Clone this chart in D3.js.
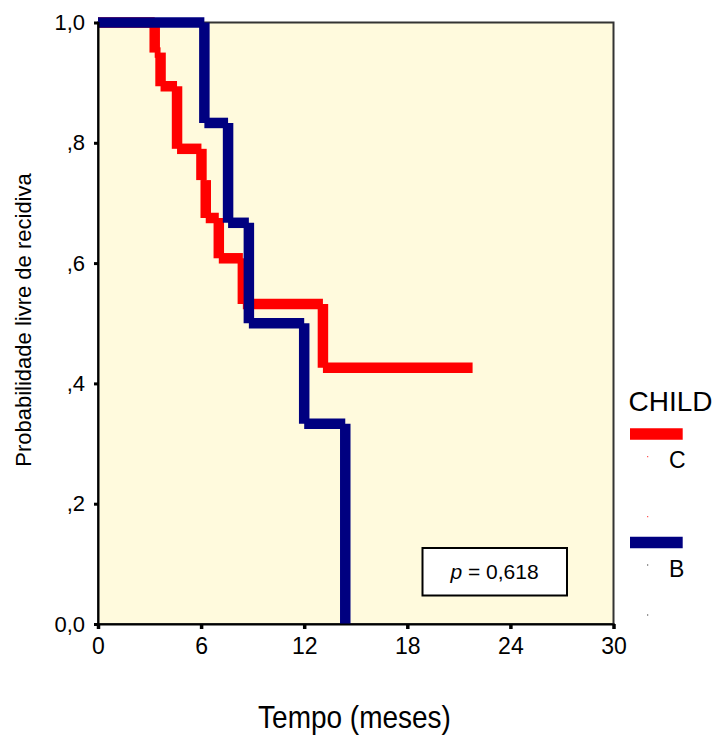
<!DOCTYPE html>
<html>
<head>
<meta charset="utf-8">
<script src="https://cdn.jsdelivr.net/npm/d3@7"></script>
<style>
  html, body { margin: 0; padding: 0; background: #ffffff; }
  svg { display: block; font-family: "Liberation Sans", Arial, sans-serif; }
</style>
</head>
<body>
<script>
// Kaplan-Meier curves: relapse-free probability by CHILD class
const groups = ["C", "B"];
const groupColors = ["#ff0000", "#000080"];

// Group C: event times (months) and survival after each event
const timesC = [3.30, 3.64, 4.60, 6.02, 6.27, 7.03, 8.43, 13.09];
const survC  = [0.950, 0.894, 0.790, 0.738, 0.675, 0.608, 0.532, 0.426];
const lastFollowUpC = 21.8;

// Group B
const timesB = [6.19, 7.57, 8.78, 12.0, 14.39];
const survB  = [0.833, 0.667, 0.500, 0.333, 0.0];
const lastFollowUpB = null;

const xTicks = [0, 6, 12, 18, 24, 30];
const yTicks = [0, 0.2, 0.4, 0.6, 0.8, 1.0];
const yTickLabels = ["0,0", ",2", ",4", ",6", ",8", "1,0"];
const pText = "0,618";

const W = 716, H = 736;
const svg = d3.select("body").append("svg").attr("width", W).attr("height", H);

const x = d3.scaleLinear().domain([0, 30]).range([98, 613.5]);
const y = d3.scaleLinear().domain([0, 1]).range([624, 22.5]);

// plot background and frame
svg.append("rect")
  .attr("x", x(0)).attr("y", y(1))
  .attr("width", x(30) - x(0)).attr("height", y(0) - y(1))
  .attr("fill", "#fffadd")
  .attr("stroke", "#333333").attr("stroke-width", 2);

// step-curve segments (each drawn separately, butt ends)
function stepSegments(times, surv, end) {
  const segs = [];
  let t0 = 0, s0 = 1;
  times.forEach((t, i) => {
    segs.push([[t0, s0], [t, s0]]);
    segs.push([[t, s0], [t, surv[i]]]);
    t0 = t; s0 = surv[i];
  });
  if (end != null) segs.push([[t0, s0], [end, s0]]);
  return segs;
}

const line = d3.line().x(d => x(d[0])).y(d => y(d[1]));

const series = [
  { segs: stepSegments(timesC, survC, lastFollowUpC), color: groupColors[0] },
  { segs: stepSegments(timesB, survB, lastFollowUpB), color: groupColors[1] }
];

series.forEach(s => {
  svg.append("g").selectAll("path")
    .data(s.segs)
    .join("path")
    .attr("d", line)
    .attr("fill", "none")
    .attr("stroke", s.color)
    .attr("stroke-width", 10.5)
    .attr("stroke-linecap", "butt");
});

// axes
const yAxis = d3.axisLeft(y)
  .tickValues(yTicks)
  .tickFormat((d, i) => yTickLabels[i])
  .tickSize(4).tickPadding(9);

const gy = svg.append("g").attr("transform", `translate(${x(0)},0)`).call(yAxis);
gy.select(".domain").attr("stroke", "#000").attr("stroke-width", 2);
gy.selectAll(".tick line").attr("stroke", "#000").attr("stroke-width", 3);
gy.selectAll(".tick text")
  .attr("font-size", 22)
  .attr("font-family", "Liberation Sans, Arial, sans-serif")
  .attr("fill", "#000");

const xAxis = d3.axisBottom(x)
  .tickValues(xTicks)
  .tickFormat(d => String(d))
  .tickSize(5).tickPadding(9);

const gx = svg.append("g").attr("transform", `translate(0,${y(0)})`).call(xAxis);
gx.select(".domain").attr("stroke", "#000").attr("stroke-width", 2);
gx.selectAll(".tick line").attr("stroke", "#000").attr("stroke-width", 3.5);
gx.selectAll(".tick text")
  .attr("font-size", 23)
  .attr("font-family", "Liberation Sans, Arial, sans-serif")
  .attr("fill", "#000");

// axis titles
svg.append("text")
  .attr("transform", "translate(354.5,728) scale(1,1.15)")
  .attr("text-anchor", "middle")
  .attr("font-size", 28)
  .attr("fill", "#000")
  .text("Tempo (meses)");

svg.append("text")
  .attr("transform", "translate(31,320) rotate(-90)")
  .attr("text-anchor", "middle")
  .attr("font-size", 22)
  .attr("fill", "#000")
  .text("Probabilidade livre de recidiva");

// p-value box
svg.append("rect")
  .attr("x", 422.5).attr("y", 548)
  .attr("width", 144.5).attr("height", 47.5)
  .attr("fill", "#ffffff")
  .attr("stroke", "#000").attr("stroke-width", 2);

const pt = svg.append("text")
  .attr("x", 494.5).attr("y", 579.3)
  .attr("text-anchor", "middle")
  .attr("font-size", 21)
  .attr("fill", "#000");
pt.append("tspan").attr("font-style", "italic").text("p");
pt.append("tspan").text(" = " + pText);

// legend
svg.append("text")
  .attr("x", 628.5).attr("y", 410.7)
  .attr("font-size", 28)
  .attr("fill", "#000")
  .text("CHILD");

const legendY = [434, 542.5];
const labelY = [468.3, 577.3];
const dotY = [[456.7, 516.7], [565, 615]];
const dotColors = ["#ff0000", "#000000"];

groups.forEach((g, i) => {
  svg.append("line")
    .attr("x1", 630).attr("x2", 682.7)
    .attr("y1", legendY[i]).attr("y2", legendY[i])
    .attr("stroke", groupColors[i])
    .attr("stroke-width", 11.5);
  svg.append("text")
    .attr("x", 669).attr("y", labelY[i])
    .attr("font-size", 23)
    .attr("fill", "#000")
    .text(g);
  dotY[i].forEach(dy => {
    svg.append("rect")
      .attr("x", 647.2).attr("y", dy - 0.5)
      .attr("width", 1).attr("height", 1)
      .attr("fill", dotColors[i]);
  });
});
</script>
</body>
</html>
